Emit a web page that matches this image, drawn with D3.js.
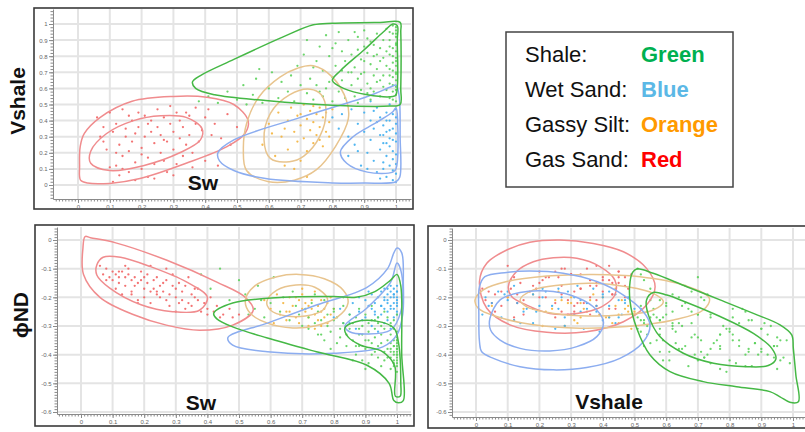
<!DOCTYPE html>
<html>
<head>
<meta charset="utf-8">
<script src="https://cdn.jsdelivr.net/npm/d3@7"></script>
<style>
  body { margin: 0; background: #fff; }
  svg { display: block; }
</style>
</head>
<body>
<svg id="chart" width="805" height="432"></svg>
<script>
// ---- Tick values ----
const unitTicks = [0, 0.1, 0.2, 0.3, 0.4, 0.5, 0.6, 0.7, 0.8, 0.9, 1];
const phiTicks = [0, -0.1, -0.2, -0.3, -0.4, -0.5, -0.6];

// ---- Samples per facies: [Sw, Vshale, phiND] ----
const gasSand = [
  [0.06,0.42,-0.09],[0.07,0.30,-0.12],[0.08,0.27,-0.10],[0.09,0.22,-0.13],[0.10,0.45,-0.11],[0.10,0.11,-0.14],
  [0.11,0.33,-0.12],[0.11,0.02,-0.17],[0.12,0.12,-0.13],[0.12,0.38,-0.15],[0.13,0.25,-0.11],[0.13,0.06,-0.19],
  [0.14,0.47,-0.13],[0.14,0.18,-0.16],[0.15,0.30,-0.12],[0.15,0.35,-0.10],[0.16,0.21,-0.14],[0.16,0.08,-0.18],
  [0.17,0.40,-0.13],[0.17,0.27,-0.16],[0.18,0.14,-0.15],[0.18,0.03,-0.21],[0.19,0.36,-0.14],[0.19,0.45,-0.11],
  [0.20,0.23,-0.13],[0.20,0.19,-0.17],[0.20,0.10,-0.20],[0.21,0.43,-0.15],[0.21,0.30,-0.12],[0.22,0.17,-0.18],
  [0.22,0.05,-0.22],[0.23,0.40,-0.14],[0.23,0.33,-0.17],[0.24,0.26,-0.13],[0.24,0.13,-0.19],[0.25,0.47,-0.16],
  [0.25,0.36,-0.20],[0.26,0.20,-0.15],[0.26,0.31,-0.18],[0.27,0.15,-0.21],[0.27,0.42,-0.14],[0.28,0.27,-0.19],
  [0.28,0.08,-0.23],[0.29,0.38,-0.16],[0.29,0.49,-0.12],[0.30,0.22,-0.20],[0.30,0.33,-0.17],[0.31,0.45,-0.15],
  [0.31,0.13,-0.22],[0.32,0.29,-0.21],[0.32,0.40,-0.18],[0.33,0.18,-0.24],[0.33,0.36,-0.16],[0.34,0.25,-0.22],
  [0.35,0.43,-0.19],[0.35,0.31,-0.23],[0.36,0.20,-0.20],[0.37,0.38,-0.21],[0.37,0.48,-0.17],[0.38,0.27,-0.25],
  [0.39,0.34,-0.22],[0.40,0.42,-0.24],[0.40,0.15,-0.26],[0.41,0.47,-0.20],[0.42,0.31,-0.25],[0.43,0.38,-0.23],
  [0.44,0.12,-0.27],[0.45,0.29,-0.26],[0.47,0.44,-0.24],[0.48,0.25,-0.27],[0.50,0.36,-0.26],[0.08,0.36,-0.14],
  [0.12,0.20,-0.11],[0.16,0.43,-0.19],[0.24,0.04,-0.18],[0.27,0.28,-0.10],[0.30,0.06,-0.25],[0.34,0.45,-0.13],
  [0.18,0.32,-0.22],[0.22,0.38,-0.09],[0.14,0.10,-0.09],[0.36,0.11,-0.17]
];

const shale = [
  [0.38,0.52,-0.12],[0.41,0.55,-0.17],[0.44,0.51,-0.10],[0.47,0.58,-0.21],[0.50,0.53,-0.14],[0.52,0.62,-0.19],
  [0.55,0.56,-0.24],[0.56,0.66,-0.16],[0.58,0.51,-0.27],[0.60,0.60,-0.22],[0.61,0.70,-0.13],[0.63,0.54,-0.25],
  [0.64,0.64,-0.20],[0.66,0.58,-0.28],[0.67,0.68,-0.18],[0.68,0.52,-0.23],[0.69,0.74,-0.26],[0.70,0.62,-0.30],
  [0.57,0.72,-0.21],[0.53,0.50,-0.26],
  [0.71,0.81,-0.24],[0.72,0.57,-0.27],[0.72,0.90,-0.31],[0.73,0.66,-0.22],[0.74,0.53,-0.29],[0.75,0.77,-0.33],
  [0.75,0.62,-0.25],[0.76,0.86,-0.28],[0.77,0.55,-0.21],[0.77,0.71,-0.35],[0.78,0.93,-0.30],[0.78,0.60,-0.26],
  [0.79,0.80,-0.32],[0.80,0.67,-0.24],[0.80,0.52,-0.28],[0.81,0.88,-0.36],[0.81,0.74,-0.27],[0.82,0.58,-0.31],
  [0.82,0.95,-0.34],[0.83,0.65,-0.23],[0.83,0.83,-0.29],[0.84,0.54,-0.33],[0.84,0.77,-0.37],[0.85,0.70,-0.26],
  [0.85,0.90,-0.31],[0.74,0.73,-0.19],[0.79,0.64,-0.38],[0.76,0.58,-0.33],[0.83,0.71,-0.20],[0.80,0.85,-0.25],
  [0.86,0.62,-0.29],[0.86,0.81,-0.35],[0.87,0.73,-0.40],[0.87,0.55,-0.27],[0.88,0.92,-0.33],[0.88,0.66,-0.37],
  [0.89,0.78,-0.30],[0.89,0.59,-0.42],[0.90,0.86,-0.38],[0.90,0.70,-0.26],[0.90,0.96,-0.35],[0.91,0.63,-0.32],
  [0.91,0.82,-0.43],[0.92,0.75,-0.36],[0.92,0.53,-0.28],[0.92,0.89,-0.40],[0.93,0.68,-0.34],[0.93,0.80,-0.31],
  [0.93,0.58,-0.39],[0.94,0.94,-0.37],[0.94,0.72,-0.41],[0.94,0.64,-0.29],[0.95,0.85,-0.44],[0.95,0.77,-0.33],
  [0.95,0.55,-0.36],[0.96,0.90,-0.39],[0.96,0.68,-0.25],[0.96,0.61,-0.42],[0.97,0.83,-0.35],[0.97,0.74,-0.38],
  [0.97,0.97,-0.41],[0.88,0.84,-0.24],[0.91,0.57,-0.35],[0.93,0.87,-0.28],[0.89,0.69,-0.33],[0.95,0.65,-0.30],
  [0.87,0.95,-0.37],[0.90,0.77,-0.45],[0.92,0.60,-0.23],[0.94,0.81,-0.27],[0.96,0.79,-0.31],[0.86,0.70,-0.42],
  [0.91,0.91,-0.29],[0.97,0.59,-0.27],[0.88,0.51,-0.31],
  [0.98,0.54,-0.30],[0.98,0.63,-0.36],[0.98,0.72,-0.41],[0.98,0.81,-0.33],[0.98,0.90,-0.38],[0.99,0.58,-0.28],
  [0.99,0.67,-0.44],[0.99,0.76,-0.35],[0.99,0.85,-0.40],[0.99,0.94,-0.37],[0.99,0.99,-0.43],[1.00,0.52,-0.32],
  [1.00,0.61,-0.39],[1.00,0.70,-0.34],[1.00,0.79,-0.46],[1.00,0.88,-0.36],[1.00,0.96,-0.42],[1.00,0.56,-0.26],
  [1.00,0.65,-0.38],[1.00,0.74,-0.43],[1.00,0.83,-0.37],[1.00,0.92,-0.40],[1.00,0.98,-0.35],[0.99,0.62,-0.31],
  [0.99,0.71,-0.39],[0.98,0.95,-0.45],[0.98,0.68,-0.29],[1.00,0.87,-0.44],[0.99,0.80,-0.42],[1.00,0.59,-0.35],
  [1.00,0.69,-0.40],[0.99,0.53,-0.37],[1.00,0.77,-0.38],[1.00,0.94,-0.41],[0.98,0.86,-0.39]
];

const wetSand = [
  [0.80,0.42,-0.27],[0.82,0.35,-0.24],[0.83,0.44,-0.29],[0.85,0.30,-0.26],[0.86,0.47,-0.22],[0.87,0.25,-0.31],
  [0.88,0.38,-0.25],[0.89,0.12,-0.28],[0.90,0.33,-0.21],[0.90,0.45,-0.27],[0.91,0.20,-0.23],[0.92,0.28,-0.30],
  [0.92,0.40,-0.19],[0.93,0.15,-0.25],[0.93,0.35,-0.22],[0.94,0.08,-0.27],[0.94,0.48,-0.20],[0.95,0.22,-0.18],
  [0.95,0.31,-0.26],[0.95,0.42,-0.23],[0.96,0.10,-0.21],[0.96,0.26,-0.24],[0.96,0.37,-0.17],[0.97,0.05,-0.22],
  [0.97,0.18,-0.19],[0.97,0.33,-0.25],[0.97,0.45,-0.21],[0.98,0.12,-0.16],[0.98,0.24,-0.23],[0.98,0.29,-0.18],
  [0.98,0.40,-0.20],[0.98,0.50,-0.24],[0.99,0.03,-0.20],[0.99,0.16,-0.24],[0.99,0.21,-0.17],[0.99,0.35,-0.22],
  [0.99,0.44,-0.19],[1.00,0.07,-0.18],[1.00,0.13,-0.22],[1.00,0.19,-0.25],[1.00,0.27,-0.20],[1.00,0.32,-0.16],
  [1.00,0.38,-0.23],[1.00,0.47,-0.21],[1.00,0.02,-0.26],[0.96,0.14,-0.29],[0.94,0.39,-0.32],[0.91,0.10,-0.18],
  [0.97,0.40,-0.28],[0.99,0.28,-0.27],[0.88,0.21,-0.20],[0.93,0.46,-0.26],[1.00,0.42,-0.18],[0.95,0.04,-0.23],
  [0.98,0.34,-0.31],[0.99,0.09,-0.19],[0.92,0.52,-0.24],[0.96,0.31,-0.20],[0.85,0.18,-0.29],[0.97,0.26,-0.17]
];

const gassySilt = [
  [0.58,0.25,-0.21],[0.60,0.38,-0.24],[0.62,0.18,-0.19],[0.63,0.45,-0.26],[0.64,0.30,-0.22],[0.65,0.12,-0.28],
  [0.66,0.40,-0.20],[0.66,0.22,-0.25],[0.67,0.48,-0.23],[0.68,0.33,-0.27],[0.69,0.27,-0.21],[0.69,0.43,-0.29],
  [0.70,0.15,-0.24],[0.70,0.37,-0.19],[0.71,0.50,-0.25],[0.71,0.29,-0.22],[0.72,0.41,-0.27],[0.72,0.21,-0.30],
  [0.73,0.46,-0.21],[0.73,0.34,-0.24],[0.74,0.39,-0.26],[0.74,0.26,-0.18],[0.75,0.44,-0.23],[0.75,0.31,-0.28],
  [0.76,0.48,-0.25],[0.76,0.36,-0.21],[0.77,0.42,-0.27],[0.77,0.24,-0.24],[0.78,0.45,-0.29],[0.78,0.33,-0.22],
  [0.79,0.39,-0.26],[0.80,0.47,-0.24],[0.68,0.10,-0.20],[0.72,0.05,-0.23],[0.61,0.32,-0.29],[0.74,0.49,-0.31],
  [0.70,0.44,-0.17],[0.76,0.28,-0.30],[0.79,0.30,-0.20],[0.65,0.35,-0.25]
];

// ---- Density contours, Sw vs Vshale ----
const swVshRedOuter = [[0.007,0.24],[0.005,0.12],[0.008,0.03],[0.03,0.012],[0.10,0.01],[0.195,0.04],[0.34,0.135],[0.47,0.24],[0.525,0.32],[0.535,0.40],[0.49,0.50],[0.405,0.545],[0.30,0.55],[0.17,0.52],[0.07,0.42],[0.02,0.32]];
const swVshRedInner = [[0.04,0.135],[0.04,0.21],[0.09,0.32],[0.175,0.40],[0.26,0.43],[0.34,0.42],[0.39,0.35],[0.385,0.28],[0.32,0.20],[0.205,0.12],[0.10,0.09]];
const swVshGreenOuter = [[0.36,0.64],[0.385,0.68],[0.49,0.78],[0.645,0.92],[0.74,0.995],[0.80,1.005],[0.95,1.01],[1.013,1.01],[1.015,0.95],[1.015,0.60],[1.013,0.50],[0.98,0.49],[0.80,0.495],[0.59,0.525],[0.43,0.56],[0.37,0.60]];
const swVshGreenInner = [[0.80,0.65],[0.825,0.71],[0.90,0.84],[0.96,0.95],[0.99,1.0],[1.004,0.99],[1.004,0.9],[1.0,0.56],[0.99,0.55],[0.91,0.56],[0.835,0.60]];
const swVshBlueOuter = [[0.44,0.20],[0.49,0.28],[0.70,0.42],[0.91,0.55],[0.985,0.61],[1.0,0.62],[1.01,0.55],[1.013,0.30],[1.012,0.05],[1.0,0.02],[0.90,0.012],[0.80,0.013],[0.59,0.04],[0.49,0.09],[0.445,0.15]];
const swVshBlueInner = [[0.825,0.205],[0.865,0.30],[0.94,0.39],[0.99,0.455],[1.0,0.48],[1.005,0.40],[1.0,0.10],[0.99,0.08],[0.91,0.08],[0.845,0.135]];
const swVshOrangeOuter = [[0.74,0.74],[0.80,0.67],[0.845,0.52],[0.85,0.41],[0.81,0.24],[0.75,0.095],[0.68,0.03],[0.60,0.02],[0.53,0.09],[0.52,0.22],[0.53,0.38],[0.57,0.55],[0.635,0.67],[0.69,0.725]];
const swVshOrangeInner = [[0.73,0.595],[0.765,0.56],[0.78,0.46],[0.76,0.30],[0.71,0.18],[0.665,0.145],[0.605,0.165],[0.585,0.28],[0.605,0.445],[0.665,0.56]];

// ---- Density contours, Sw vs phiND ----
const swPhiRedOuter = [[0.013,0.012],[0.03,0.008],[0.11,-0.01],[0.27,-0.07],[0.43,-0.147],[0.52,-0.20],[0.545,-0.245],[0.48,-0.297],[0.375,-0.315],[0.27,-0.297],[0.165,-0.26],[0.06,-0.20],[0.008,-0.12],[0.006,-0.03]];
const swPhiRedInner = [[0.05,-0.087],[0.07,-0.06],[0.125,-0.06],[0.22,-0.093],[0.335,-0.147],[0.40,-0.20],[0.375,-0.245],[0.29,-0.25],[0.19,-0.226],[0.09,-0.167],[0.05,-0.122]];
const swPhiGreenOuter = [[0.42,-0.256],[0.48,-0.22],[0.64,-0.20],[0.80,-0.197],[0.87,-0.20],[0.93,-0.18],[0.98,-0.14],[1.0,-0.12],[1.012,-0.16],[1.015,-0.40],[1.02,-0.56],[1.005,-0.568],[0.99,-0.56],[0.975,-0.50],[0.905,-0.437],[0.745,-0.39],[0.59,-0.342],[0.48,-0.303],[0.43,-0.275]];
const swPhiGreenInner = [[0.835,-0.307],[0.87,-0.285],[0.935,-0.283],[0.99,-0.307],[1.005,-0.36],[1.012,-0.50],[1.01,-0.545],[0.995,-0.545],[0.993,-0.44],[0.955,-0.39],[0.885,-0.367],[0.845,-0.338]];
const swPhiBlueOuter = [[0.465,-0.34],[0.59,-0.29],[0.745,-0.227],[0.905,-0.165],[0.97,-0.10],[0.99,-0.045],[1.0,-0.028],[1.015,-0.045],[1.02,-0.15],[1.018,-0.26],[1.0,-0.33],[0.955,-0.373],[0.80,-0.395],[0.59,-0.39],[0.48,-0.367]];
const swPhiBlueInner = [[0.835,-0.30],[0.905,-0.237],[0.98,-0.147],[1.0,-0.08],[1.015,-0.12],[1.012,-0.25],[0.98,-0.314],[0.905,-0.328],[0.85,-0.32]];
const swPhiOrangeOuter = [[0.52,-0.21],[0.55,-0.16],[0.62,-0.128],[0.69,-0.12],[0.77,-0.135],[0.83,-0.175],[0.845,-0.22],[0.81,-0.27],[0.74,-0.30],[0.67,-0.307],[0.59,-0.29],[0.535,-0.255]];
const swPhiOrangeInner = [[0.588,-0.215],[0.62,-0.175],[0.68,-0.157],[0.74,-0.165],[0.78,-0.205],[0.765,-0.245],[0.71,-0.265],[0.65,-0.265],[0.60,-0.245]];

// ---- Density contours, Vshale vs phiND ----
const vshPhiRedOuter = [[0.011,-0.145],[0.034,-0.081],[0.097,-0.035],[0.17,-0.008],[0.265,0.0],[0.37,-0.012],[0.465,-0.041],[0.538,-0.099],[0.565,-0.163],[0.538,-0.227],[0.465,-0.285],[0.349,-0.32],[0.223,-0.322],[0.107,-0.296],[0.034,-0.238]];
const vshPhiRedInner = [[0.102,-0.163],[0.128,-0.11],[0.181,-0.076],[0.244,-0.062],[0.318,-0.064],[0.391,-0.093],[0.438,-0.14],[0.438,-0.192],[0.396,-0.233],[0.318,-0.256],[0.233,-0.256],[0.16,-0.227],[0.113,-0.198]];
const vshPhiBlueOuter = [[0.011,-0.163],[0.028,-0.128],[0.097,-0.113],[0.17,-0.108],[0.275,-0.116],[0.381,-0.145],[0.465,-0.192],[0.528,-0.25],[0.549,-0.296],[0.528,-0.355],[0.454,-0.413],[0.349,-0.445],[0.244,-0.453],[0.139,-0.442],[0.055,-0.413],[0.018,-0.39],[0.011,-0.355],[0.009,-0.26]];
const vshPhiBlueInner = [[0.044,-0.273],[0.076,-0.209],[0.139,-0.183],[0.223,-0.178],[0.297,-0.192],[0.37,-0.233],[0.402,-0.285],[0.381,-0.337],[0.318,-0.372],[0.233,-0.387],[0.139,-0.378],[0.076,-0.349],[0.046,-0.314]];
const vshPhiOrangeOuter = [[-0.003,-0.209],[0.023,-0.174],[0.097,-0.145],[0.223,-0.126],[0.37,-0.12],[0.517,-0.128],[0.654,-0.157],[0.736,-0.203],[0.717,-0.244],[0.623,-0.279],[0.475,-0.302],[0.328,-0.308],[0.181,-0.296],[0.065,-0.267],[0.007,-0.238]];
const vshPhiOrangeInner = [[0.139,-0.209],[0.181,-0.174],[0.265,-0.157],[0.37,-0.151],[0.475,-0.163],[0.559,-0.186],[0.591,-0.215],[0.559,-0.244],[0.454,-0.262],[0.328,-0.264],[0.223,-0.252],[0.16,-0.233]];
const vshPhiGreenOuter = [[0.507,-0.101],[0.559,-0.116],[0.665,-0.163],[0.77,-0.209],[0.875,-0.256],[0.959,-0.296],[0.996,-0.331],[1.001,-0.378],[1.009,-0.471],[1.017,-0.564],[0.99,-0.566],[0.959,-0.547],[0.927,-0.529],[0.822,-0.512],[0.717,-0.494],[0.612,-0.459],[0.549,-0.401],[0.507,-0.308],[0.486,-0.215],[0.486,-0.145],[0.494,-0.113]];
const vshPhiGreenInner = [[0.559,-0.183],[0.602,-0.192],[0.665,-0.218],[0.77,-0.267],[0.875,-0.326],[0.933,-0.378],[0.946,-0.415],[0.922,-0.438],[0.854,-0.442],[0.749,-0.43],[0.654,-0.395],[0.58,-0.337],[0.544,-0.262],[0.538,-0.209]];

// ---- Legend ----
const legendNames = ["Shale:", "Wet Sand:", "Gassy Silt:", "Gas Sand:"];
const legendColourNames = ["Green", "Blue", "Orange", "Red"];

// ---- Styling ----
const FONT = "'Liberation Sans', Arial, Helvetica, sans-serif";
const legendInk = ["#00b050", "#5bb8e6", "#ff9a00", "#ff0000"];
const dotColour = { red: "#f26464", green: "#5cd25c", blue: "#3eaef0", orange: "#f4b43c" };
const lineColour = { red: "#f08c8e", green: "#45b845", blue: "#8cadf0", orange: "#e8c48e" };

const svg = d3.select("#chart");
svg.append("rect").attr("width", 805).attr("height", 432).attr("fill", "#fff");

const facies = [
  { samples: gasSand, dot: dotColour.red },
  { samples: gassySilt, dot: dotColour.orange },
  { samples: wetSand, dot: dotColour.blue },
  { samples: shale, dot: dotColour.green }
];

const panels = [
  {
    id: "p1", frame: [34, 8, 413, 209], plot: [53, 9, 411, 199],
    xAnchor: [[0, 78], [1, 396]], yAnchor: [[0, 185], [1, 24]],
    xi: 0, yi: 1, xTicks: unitTicks, yTicks: unitTicks, yMinor: 0.02,
    title: "Sw", titleXY: [203, 190],
    contours: [
      [swVshRedOuter, "red"], [swVshRedInner, "red"],
      [swVshOrangeOuter, "orange"], [swVshOrangeInner, "orange"],
      [swVshBlueOuter, "blue"], [swVshBlueInner, "blue"],
      [swVshGreenOuter, "green"], [swVshGreenInner, "green"]
    ]
  },
  {
    id: "p2", frame: [35, 225, 414, 426], plot: [57, 227, 411, 414],
    xAnchor: [[0, 81], [1, 397]], yAnchor: [[0, 240], [-0.6, 412]],
    xi: 0, yi: 2, xTicks: unitTicks, yTicks: phiTicks, yMinor: 0.01,
    title: "Sw", titleXY: [201, 410],
    contours: [
      [swPhiRedOuter, "red"], [swPhiRedInner, "red"],
      [swPhiOrangeOuter, "orange"], [swPhiOrangeInner, "orange"],
      [swPhiBlueOuter, "blue"], [swPhiBlueInner, "blue"],
      [swPhiGreenOuter, "green"], [swPhiGreenInner, "green"]
    ]
  },
  {
    id: "p3", frame: [428, 226, 812, 428], plot: [452, 228, 809, 417],
    xAnchor: [[0, 476], [1, 793]], yAnchor: [[0, 240], [-0.6, 412]],
    xi: 1, yi: 2, xTicks: unitTicks, yTicks: phiTicks, yMinor: 0.01,
    title: "Vshale", titleXY: [609, 409],
    contours: [
      [vshPhiRedOuter, "red"], [vshPhiRedInner, "red"],
      [vshPhiOrangeOuter, "orange"], [vshPhiOrangeInner, "orange"],
      [vshPhiBlueOuter, "blue"], [vshPhiBlueInner, "blue"],
      [vshPhiGreenOuter, "green"], [vshPhiGreenInner, "green"]
    ]
  }
];

const fmt = v => String(+v.toFixed(1));

panels.forEach(p => {
  const [px0, py0, px1, py1] = p.plot;
  // Linear scales pinned by two known tick positions, widened to the plot box
  const x = d3.scaleLinear().domain(p.xAnchor.map(a => a[0])).range(p.xAnchor.map(a => a[1]));
  x.domain([x.invert(px0), x.invert(px1)]).range([px0, px1]);
  const y = d3.scaleLinear().domain(p.yAnchor.map(a => a[0])).range(p.yAnchor.map(a => a[1]));
  y.domain([y.invert(py1), y.invert(py0)]).range([py1, py0]);

  const g = svg.append("g");

  // frame
  g.append("rect")
    .attr("x", p.frame[0]).attr("y", p.frame[1])
    .attr("width", p.frame[2] - p.frame[0]).attr("height", p.frame[3] - p.frame[1])
    .attr("fill", "#fff").attr("stroke", "#3a3a3a").attr("stroke-width", 1.6);

  // grid
  const grid = g.append("g").attr("stroke", "#e4e4e4").attr("stroke-width", 2);
  grid.selectAll("line.v").data(p.xTicks).join("line")
    .attr("x1", d => x(d)).attr("x2", d => x(d)).attr("y1", py0).attr("y2", py1);
  grid.selectAll("line.h").data(p.yTicks).join("line")
    .attr("y1", d => y(d)).attr("y2", d => y(d)).attr("x1", px0).attr("x2", px1);

  // clip for marks
  svg.append("clipPath").attr("id", "clip-" + p.id)
    .append("rect").attr("x", px0).attr("y", py0).attr("width", px1 - px0).attr("height", py1 - py0);
  const marks = g.append("g").attr("clip-path", `url(#clip-${p.id})`);

  // scatter points
  facies.forEach(f => {
    marks.append("g").selectAll("circle").data(f.samples).join("circle")
      .attr("cx", d => x(d[p.xi])).attr("cy", d => y(d[p.yi]))
      .attr("r", 1.15).attr("fill", f.dot).attr("opacity", 0.9);
  });

  // density contours
  const line = d3.line().x(d => x(d[0])).y(d => y(d[1])).curve(d3.curveCatmullRomClosed.alpha(0.5));
  marks.append("g").selectAll("path").data(p.contours).join("path")
    .attr("d", d => line(d[0]))
    .attr("fill", "none")
    .attr("stroke", d => lineColour[d[1]])
    .attr("stroke-width", 1.5)
    .attr("stroke-linejoin", "round");

  // axes: minor ruler ticks then major ticks with labels
  const xMinor = d3.range(Math.ceil(x.domain()[0] * 100), Math.floor(x.domain()[1] * 100) + 1).map(v => v / 100);
  const yLo = y.domain()[0], yHi = y.domain()[1];
  const yMinor = d3.range(Math.ceil(yLo / p.yMinor), Math.floor(yHi / p.yMinor) + 1).map(v => +(v * p.yMinor).toFixed(3));

  const axX = g.append("g").attr("transform", `translate(0,${py1})`);
  axX.call(d3.axisBottom(x).tickValues(xMinor).tickSize(2.5).tickSizeOuter(0).tickFormat(""));
  axX.call(g2 => g2.selectAll("path,line").attr("stroke", "#8a8a8a"));
  const axX2 = g.append("g").attr("transform", `translate(0,${py1})`);
  axX2.call(d3.axisBottom(x).tickValues(p.xTicks).tickSize(4).tickSizeOuter(0).tickFormat(fmt).tickPadding(2));
  axX2.select(".domain").remove();
  axX2.selectAll("line").attr("stroke", "#8a8a8a");
  axX2.selectAll("text").attr("font-family", FONT).attr("font-size", 6).attr("fill", "#666");

  const axY = g.append("g").attr("transform", `translate(${px0},0)`);
  axY.call(d3.axisLeft(y).tickValues(yMinor).tickSize(2.5).tickSizeOuter(0).tickFormat(""));
  axY.call(g2 => g2.selectAll("path,line").attr("stroke", "#8a8a8a"));
  const axY2 = g.append("g").attr("transform", `translate(${px0},0)`);
  axY2.call(d3.axisLeft(y).tickValues(p.yTicks).tickSize(4).tickSizeOuter(0).tickFormat(fmt).tickPadding(1.5));
  axY2.select(".domain").remove();
  axY2.selectAll("line").attr("stroke", "#8a8a8a");
  axY2.selectAll("text").attr("font-family", FONT).attr("font-size", 6).attr("fill", "#666");

  // in-plot axis title
  g.append("text")
    .attr("x", p.titleXY[0]).attr("y", p.titleXY[1])
    .attr("text-anchor", "middle")
    .attr("font-family", FONT).attr("font-weight", "bold").attr("font-size", 21)
    .attr("fill", "#111").text(p.title);
});

// rotated y titles
svg.append("text")
  .attr("transform", "translate(25,101) rotate(-90)")
  .attr("text-anchor", "middle")
  .attr("font-family", FONT).attr("font-weight", "bold").attr("font-size", 21)
  .attr("fill", "#111").text("Vshale");
svg.append("text")
  .attr("transform", "translate(28,315) rotate(-90)")
  .attr("text-anchor", "middle")
  .attr("font-family", FONT).attr("font-weight", "bold").attr("font-size", 21)
  .attr("fill", "#111").text("\u03D5ND");

// legend box
const lg = svg.append("g");
lg.append("rect").attr("x", 506).attr("y", 32).attr("width", 227).attr("height", 155)
  .attr("fill", "#fff").attr("stroke", "#444").attr("stroke-width", 1.5);
const rowY = d3.scalePoint().domain(d3.range(legendNames.length)).range([62, 167]);
lg.selectAll("text.name").data(legendNames).join("text")
  .attr("x", 525).attr("y", (d, i) => rowY(i))
  .attr("font-family", FONT).attr("font-size", 22).attr("fill", "#111").text(d => d);
lg.selectAll("text.col").data(legendColourNames).join("text")
  .attr("x", 641).attr("y", (d, i) => rowY(i))
  .attr("font-family", FONT).attr("font-size", 22).attr("font-weight", "bold")
  .attr("fill", (d, i) => legendInk[i]).text(d => d);
</script>
</body>
</html>
